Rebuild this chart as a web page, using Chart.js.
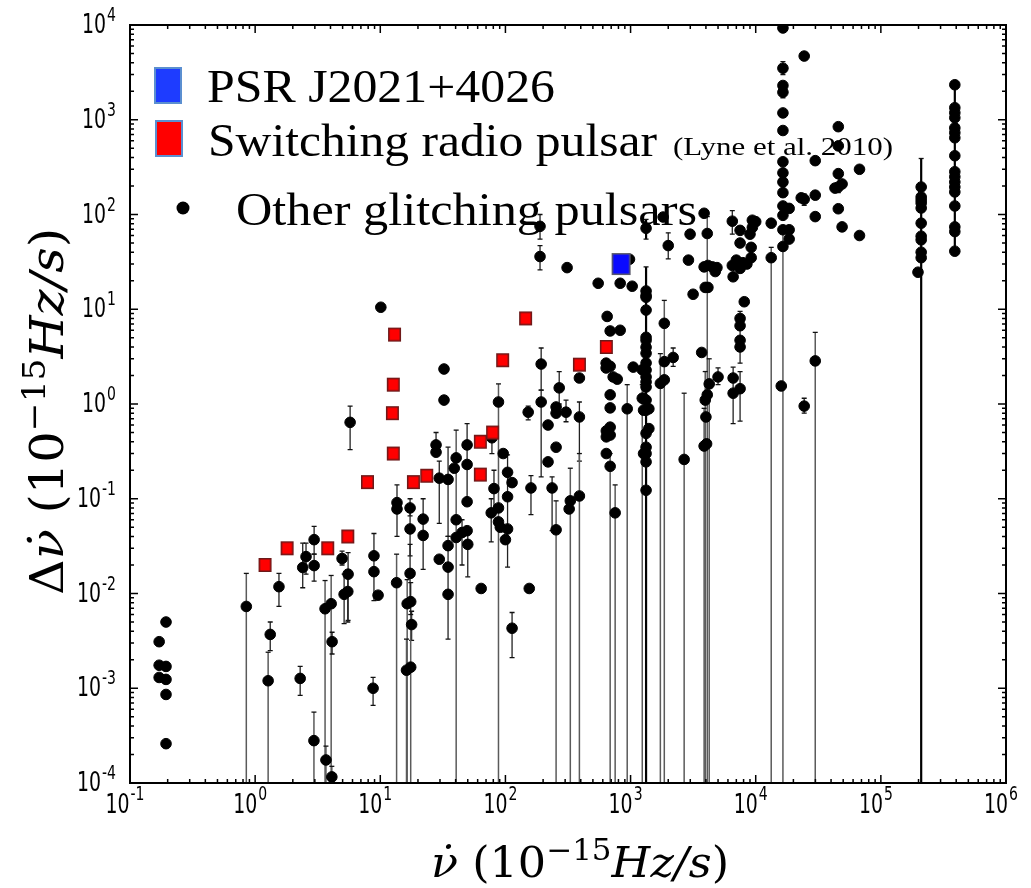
<!DOCTYPE html>
<html><head><meta charset="utf-8">
<script src="https://cdn.jsdelivr.net/npm/chart.js@4/dist/chart.umd.min.js"></script>
<style>html,body{margin:0;padding:0;background:#fff}canvas{display:block}</style>
</head><body>
<canvas id="c" width="1031" height="888"></canvas>
<script>
// ---- tick decades ----
const xDecades=[-1,0,1,2,3,4,5,6];
const yDecades=[-4,-3,-2,-1,0,1,2,3,4];

// ---- PSR J2021+4026 ----
const blueX=[840];
const blueY=[30];

// ---- Switching radio pulsars (Lyne et al. 2010) ----
const redX=[1.2,1.8,3.8,5.5,7.9,12.7,12.5,12.7,13,18.4,23.5,63,63,79,95,145,390,640];
const redY=[0.02,0.03,0.03,0.04,0.15,0.3,0.8,1.6,5.4,0.15,0.175,0.18,0.4,0.5,2.9,8,2.6,4];

// ---- Other glitching pulsars: [nudot, dnudot, errLow, errHigh] ----
const otherLow=[
[0.171,3.1e-3],[0.171,1.75e-3],[0.171,1.3e-3],
[0.194,5.0e-3],[0.194,1.7e-3],[0.194,1.24e-3],[0.194,8.6e-4],[0.194,2.6e-4],
[0.85,7.3e-3,1e-6,1.63e-2],[1.27,1.2e-3,1e-6,2.4e-3],[1.32,3.7e-3,2.5e-3,5.0e-3],
[1.55,1.18e-2,7.3e-3,1.63e-2],[2.29,1.27e-3,8.4e-4,1.7e-3],[2.4,1.88e-2,1.15e-2,3.4e-2],
[2.55,2.45e-2,1.6e-2,3.4e-2],[2.96,3.7e-2,2.6e-2,5.1e-2],[2.96,1.97e-2,1.35e-2,2.6e-2],
[2.95,2.8e-4,1e-6,5.6e-4],[3.62,6.9e-3,1e-6,1.37e-2],[3.68,1.75e-4,1e-6,2.45e-4],
[4.05,7.8e-3,1e-6,1.55e-2],[4.12,3.1e-3,2.3e-3,3.9e-3],[4.1,1.16e-4,1e-6,1.5e-4],
[4.95,2.34e-2,2.0e-2,2.8e-2],[5.53,1.6e-2,5.2e-3,2.7e-2],[5.14,9.8e-3,4.8e-3,1.6e-2],
[5.5,1.05e-2,5e-3,1.6e-2],[5.74,0.64,0.33,0.95],[8.76,1.0e-3,6.6e-4,1.3e-3],
[8.9,2.5e-2,8.4e-3,4.3e-2],[8.9,1.7e-2],[9.6,9.6e-3]
];
const otherMid=[
[10.1,10.5],
[13.6,0.091,0.04,0.14],[13.6,0.078],[13.5,1.3e-2,1e-6,2.6e-2],
[17.3,0.08,0.066,0.1],[17.3,0.048,0.025,0.075],[17.3,1.63e-2,8.5e-3,3.3e-2],
[16.4,7.8e-3,1e-6,1.4e-2],[17.5,8.2e-3,4.5e-3,1.3e-2],[17.8,4.7e-3,3.2e-3,6.5e-3],
[16.2,1.55e-3,1e-6,3.3e-3],[17.5,1.67e-3,1e-6,6e-3],
[22,0.061,0.018,0.1],[22,0.041],
[27.9,0.37,0.3,0.5],[27.9,0.31],[29.6,0.165,0.055,0.25],[29.6,0.023],
[32.3,2.34],[32.3,1.1],
[34.8,0.16,0.04,0.35],[34.8,0.032],[34.8,1.9e-2,3.3e-3,4e-2],[34.8,9.8e-3],
[40.4,0.27,1e-6,0.53],[39,0.21],[40.4,0.06],[40.4,0.039],[45,0.044,0.02,0.06],
[49.4,0.37,0.1,0.62],[49.4,0.23],[49.4,0.093],[49.4,0.046],[50,0.033,0.015,0.045],
[64,1.13e-2],
[77,0.071,0.035,0.1],[78,0.44,0.3,0.55],[81,0.128,0.07,0.2],
[88,1.05,1e-6,1.63],[88,0.08],[88,0.057],[91,0.05],[96,0.3],
[104,0.19,0.019,0.29],[104,0.105],[104,0.048],[100,0.037],[113,0.148],[113,4.3e-3,2.1e-3,6.3e-3],
[152,0.82,0.68,0.95],[155,1.13e-2],[160,0.13,0.068,0.175],
[193,2.64,1.4,3.9],[193,1.05,0.17,1.4],[189,75,55,100],[189,36,26,47],
[219,0.6],[219,0.245],[236,0.13,0.046,0.17],
[254,0.93],[254,0.8],[254,0.35],[254,0.047,1e-6,0.095],
[269,1.48,1.0,2.2],[305,0.82,0.65,1.1],[311,27.5],[323,0.078],[330,0.095,1e-6,0.21],
[390,1.88],[390,0.73,0.25,1.05],[390,0.107,1e-6,0.3],
[551,18.8],[650,8.4],[687,5.9],[638,2.7],[638,2.4],[687,2.5],[726,1.93],[782,1.83],
[640,0.52],[640,0.45],[640,0.3],[687,1.25],[687,0.91],[687,0.57],[687,0.47],[687,0.22,1e-6,0.3],
[753,0.071,1e-6,0.14],[826,18.8],[826,6.0],[940,0.89,1e-6,1.6],[980,33.7]
];
const otherHigh=[
[1030,17.5],[1050,2.45],[1240,2.3],[1240,1.15,1e-6,1.6],
[1330,71.6,55,89],[1330,15.6,1e-6,28],[1330,14.0],[1330,13.4],[1330,9.8],[1330,5.06],[1330,4.7],
[1330,3.97],[1330,3.43],[1330,2.71],[1330,2.28],[1330,1.93],[1330,1.71],[1330,1.51],[1330,1.1],
[1330,0.86],[1330,0.49],[1330,0.35],[1330,0.3],[1330,0.245],[1330,0.123],
[1270,2.28],[1270,1.15],[1270,0.86],[1270,0.3],[1400,0.89],[1400,0.55],
[1820,94],[2000,47,34,64],[1860,7.1,1e-6,12.4],[1860,2.8],[1860,1.8],[1730,1.65,1e-6,3.4],[2190,3.1,2.5,3.9],
[2990,62],[2900,33],[3160,14.4],[2680,0.26,1e-6,1.3],
[3870,103],[4100,63,1e-6,95],[3870,28],[4150,29],[4500,28],[3950,17],[4150,17],[4750,25],[4900,27.5],
[3700,3.5],[4250,1.63,1e-6,3.0],[3950,1.1,1e-6,2.2],[4100,1.25],[4000,0.73],[3870,0.36,1e-6,0.9],[4050,0.38],
[5000,1.93,1.6,2.4],
[6500,85,62,110],[6500,29],[6600,22],[7000,33],[7500,68],[7500,50],[7900,31],[9000,62],[9400,87],
[9400,73],[9200,45],[9200,35],[8500,30],[10000,84],[7500,27],[8100,12],
[7500,8.0],[7500,6.7],[7500,4.7],[7500,4.0,2.7,9.5],
[6600,1.88,0.62,2.45],[6600,1.3],[7500,1.45,0.66,2.2],
[13300,81],[13300,35,1e-6,45],
[16500,9300],[16500,3500,3000,4100],[16500,2300],[16500,1950,1700,2200],[16500,1180],[16500,770],
[16500,360],[16500,275],[16500,220],[16500,170],[16500,123],[16500,98],[16500,69],[16500,46,1e-6,70],[16000,1.55],
[18500,116],[18500,69],[18500,55],
[24400,4700],[23100,150],[24400,145,125,165],[24400,0.95,0.8,1.15],
[29900,370],[29900,160],[29900,95],[29900,2.85,1e-6,5.7],
[45700,845],[45700,530],[45700,270],[43000,190],[45700,195,170,240],[49000,210],[45700,115],[49000,74,68,80],
[67500,300],[67500,60],
[198000,24.6],
[210000,195,1e-6,390],[210000,153],[210000,142],[210000,132],[210000,117],[210000,81],[210000,59],
[210000,54],[210000,40],[210000,35],
[390000,2340],[390000,1340],[390000,1185],[390000,1050],[390000,820],[390000,730],[390000,645],
[390000,417],[390000,283],[390000,250],[390000,220],[390000,195],[390000,173,41,2340],[390000,123],
[390000,74],[390000,66],[390000,41]
];

// ---- texts ----
const legendTexts=['PSR J2021+4026','Switching radio pulsar','(Lyne et al. 2010)','Other glitching pulsars'];
const xTitleParts=[['ν̇','italic'],[' (10',''],['−15','sup'],['Hz/s','italic'],[')','']];
const yTitleParts=[['Δ',''],['ν̇','italic'],[' (10',''],['−15','sup'],['Hz/s','italic'],[')','']];

// style: error lines drawn heavier (black) at these columns
const heavyLineX=[1330,210000,390000];

const others=otherLow.concat(otherMid,otherHigh);

function rectImg(w,h,fill,stroke){
  const c=document.createElement('canvas'); c.width=w+2; c.height=h+2;
  const g=c.getContext('2d');
  g.fillStyle=fill; g.fillRect(1,1,w,h);
  g.strokeStyle=stroke; g.lineWidth=1.5; g.strokeRect(1.75,1.75,w-1.5,h-1.5);
  return c;
}
const blueImg=rectImg(19,22,'#0a0aff','#5a5a6a');
const redImg=rectImg(13,14,'#ff0000','#6b1a1a');

const errorBars={id:'errorBars',beforeDatasetsDraw(chart){
  const {ctx,chartArea:a,scales:{x,y}}=chart;
  ctx.save(); ctx.beginPath(); ctx.rect(a.left,a.top,a.right-a.left,a.bottom-a.top); ctx.clip();
  others.forEach(p=>{
    if(p.length<4) return;
    const px=x.getPixelForValue(p[0]);
    const yl=y.getPixelForValue(p[2]), yh=y.getPixelForValue(p[3]);
    const long=p[2]<1e-4;
    const heavy=heavyLineX.includes(p[0]);
    ctx.strokeStyle=heavy?'#000':(long?'#5a5a5a':'#222'); ctx.lineWidth=heavy?2.2:(long?1.5:1.3);
    ctx.beginPath(); ctx.moveTo(px,Math.min(yl,a.bottom+5)); ctx.lineTo(px,yh); ctx.stroke();
    ctx.strokeStyle='#111'; ctx.lineWidth=1.3;
    ctx.beginPath(); ctx.moveTo(px-2.5,yh); ctx.lineTo(px+2.5,yh);
    if(!long){ctx.moveTo(px-2.5,yl); ctx.lineTo(px+2.5,yl);}
    ctx.stroke();
  });
  ctx.restore();
}};

function drawParts(ctx,parts,size,supSize,supRise,targetW){
  const fam='"DejaVu Serif"';
  const items=parts.map(([t,k])=>{
    const f=k==='sup'?`${supSize}px ${fam}`:(k==='italic'?`italic ${size}px ${fam}`:`${size}px ${fam}`);
    ctx.font=f; return {t,f,w:ctx.measureText(t).width,dy:k==='sup'?-supRise:0};
  });
  const tot=items.reduce((s,i)=>s+i.w,0);
  ctx.save(); ctx.scale(targetW/tot,1);
  let cx=0; ctx.textAlign='left'; ctx.textBaseline='alphabetic';
  items.forEach(i=>{ctx.font=i.f; ctx.fillText(i.t,cx,i.dy); cx+=i.w;});
  ctx.restore();
}

function powLabel(ctx,exp){
  const sx=0.7;
  ctx.font='27px "DejaVu Sans"'; const w1=ctx.measureText('10').width*sx;
  ctx.font='20px "DejaVu Sans"'; const e=String(exp); const w2=ctx.measureText(e).width*sx;
  return {w1,w2,e,sx};
}
function drawPow(ctx,L,left,midY,rise){
  ctx.save(); ctx.textBaseline='middle'; ctx.textAlign='left'; ctx.fillStyle='#000';
  ctx.save(); ctx.translate(left,midY); ctx.scale(L.sx,1); ctx.font='27px "DejaVu Sans"'; ctx.fillText('10',0,0); ctx.restore();
  ctx.save(); ctx.translate(left+L.w1+1,midY-rise); ctx.scale(L.sx,1); ctx.font='20px "DejaVu Sans"'; ctx.fillText(L.e,0,0); ctx.restore();
  ctx.restore();
}

const frame={id:'frame',afterDraw(chart){
  const {ctx,chartArea:a,scales:{x,y}}=chart;
  ctx.save();
  ctx.strokeStyle='#000'; ctx.lineWidth=1.5;
  ctx.beginPath();
  xDecades.forEach((d,i)=>{
    for(let m=1;m<=9;m++){
      if(m>1 && i===xDecades.length-1) break;
      const px=x.getPixelForValue(m*Math.pow(10,d));
      const L=m===1?8:4;
      ctx.moveTo(px,a.bottom); ctx.lineTo(px,a.bottom-L);
      ctx.moveTo(px,a.top); ctx.lineTo(px,a.top+L);
    }
  });
  yDecades.forEach((d,i)=>{
    for(let m=1;m<=9;m++){
      if(m>1 && i===yDecades.length-1) break;
      const py=y.getPixelForValue(m*Math.pow(10,d));
      const L=m===1?8:4;
      ctx.moveTo(a.left,py); ctx.lineTo(a.left+L,py);
      ctx.moveTo(a.right,py); ctx.lineTo(a.right-L,py);
    }
  });
  ctx.stroke();
  ctx.lineWidth=2;
  ctx.strokeRect(a.left,a.top,a.right-a.left,a.bottom-a.top);
  xDecades.forEach(d=>{
    const px=x.getPixelForValue(Math.pow(10,d));
    const L=powLabel(ctx,d);
    drawPow(ctx,L,px-5-(L.w1+L.w2+1)/2,806,11);
  });
  yDecades.forEach(d=>{
    const py=y.getPixelForValue(Math.pow(10,d));
    const L=powLabel(ctx,d);
    drawPow(ctx,L,116-(L.w1+L.w2+1),py+1,10);
  });
  ctx.fillStyle='#000';
  ctx.save(); ctx.translate(431,877); drawParts(ctx,xTitleParts,43,30,17,298); ctx.restore();
  ctx.save(); ctx.translate(63,595); ctx.rotate(-Math.PI/2); drawParts(ctx,yTitleParts,46,32,18,367); ctx.restore();
  const serif='"Liberation Serif"';
  function fitText(t,size,x0,yb,w){
    ctx.font=`${size}px ${serif}`; const mw=ctx.measureText(t).width;
    ctx.save(); ctx.translate(x0,yb); ctx.scale(w/mw,1); ctx.textAlign='left'; ctx.textBaseline='alphabetic'; ctx.fillText(t,0,0); ctx.restore();
  }
  ctx.lineWidth=2; ctx.strokeStyle='#5b8fd0';
  ctx.fillStyle='#1e3cff'; ctx.fillRect(155,68,26,35); ctx.strokeRect(155,68,26,35);
  ctx.fillStyle='#ff0000'; ctx.fillRect(156,121,26,35); ctx.strokeRect(156,121,26,35);
  ctx.fillStyle='#000'; ctx.beginPath(); ctx.arc(183,208,6.5,0,Math.PI*2); ctx.fill();
  fitText(legendTexts[0],46,207,102,348);
  fitText(legendTexts[1],46,208,156,449);
  fitText(legendTexts[2],26,673,155,220);
  fitText(legendTexts[3],46,236,225,461);
  ctx.restore();
}};

new Chart(document.getElementById('c'),{
  type:'scatter',
  data:{datasets:[
    {label:legendTexts[0],data:blueX.map((v,i)=>({x:v,y:blueY[i]})),pointStyle:blueImg,pointRadius:8,order:0},
    {label:legendTexts[1],data:redX.map((v,i)=>({x:v,y:redY[i]})),pointStyle:redImg,pointRadius:7,order:1},
    {label:legendTexts[3],data:others.map(p=>({x:p[0],y:p[1]})),pointStyle:'circle',pointRadius:5.3,borderWidth:1,
     backgroundColor:'#000',borderColor:'#000',order:2}
  ]},
  options:{
    responsive:false,animation:false,devicePixelRatio:1,
    layout:{padding:{top:25,right:25,left:0,bottom:0}},
    plugins:{legend:{display:false},tooltip:{enabled:false}},
    scales:{
      x:{type:'logarithmic',min:0.1,max:1e6,ticks:{display:false},grid:{display:false},border:{display:false},
         afterFit:s=>{s.height=105;}},
      y:{type:'logarithmic',min:1e-4,max:1e4,ticks:{display:false},grid:{display:false},border:{display:false},
         afterFit:s=>{s.width=130;}}
    }
  },
  plugins:[errorBars,frame]
});
</script>
</body></html>
